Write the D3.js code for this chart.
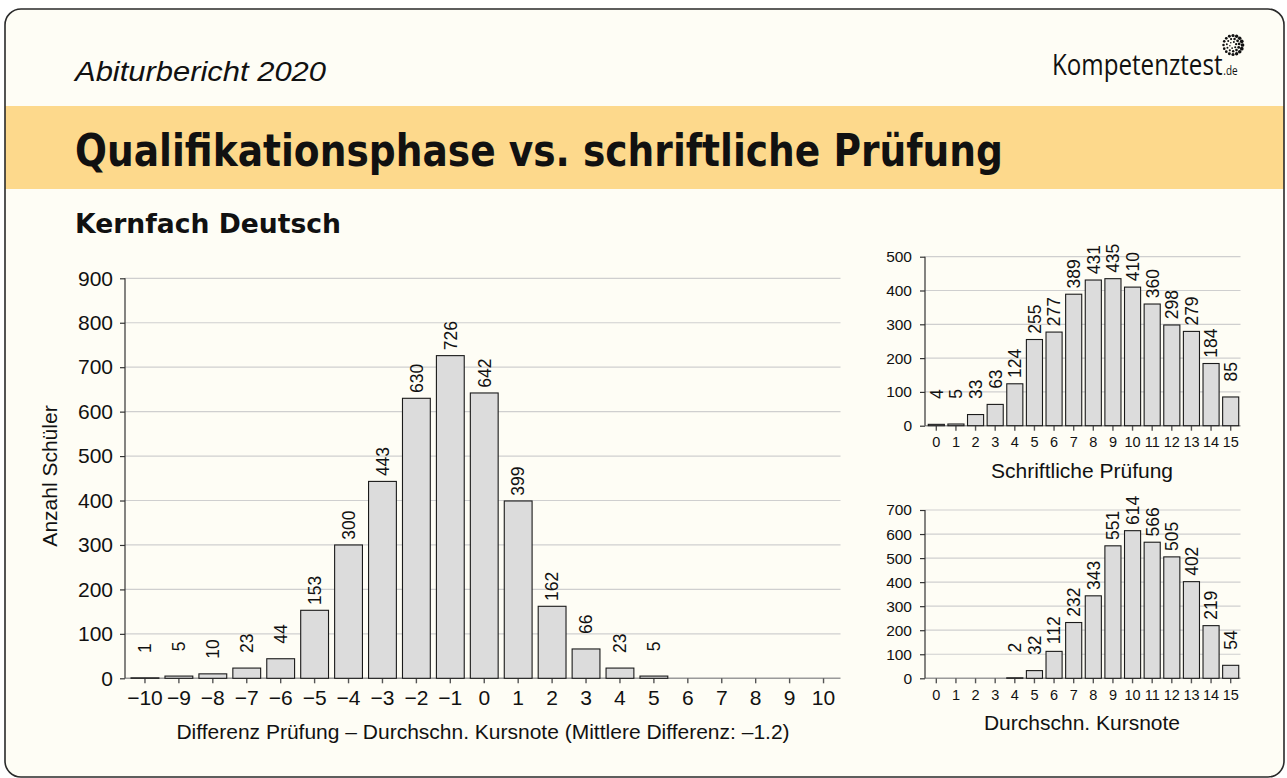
<!DOCTYPE html>
<html><head><meta charset="utf-8">
<script src="https://cdn.jsdelivr.net/npm/d3@7"></script>
<style>
html,body{margin:0;padding:0;background:#ffffff;}
svg{display:block;}
text{font-family:"Liberation Sans",Arial,Helvetica,sans-serif;fill:#111;}
</style></head>
<body>
<svg id="c" width="1287" height="778"></svg>
<script>
// ---------- data ----------
const diffCategories = [-10,-9,-8,-7,-6,-5,-4,-3,-2,-1,0,1,2,3,4,5,6,7,8,9,10];
const diffCounts     = [1,5,10,23,44,153,300,443,630,726,642,399,162,66,23,5,0,0,0,0,0];
const mainYTicks     = [0,100,200,300,400,500,600,700,800,900];

const pointCategories = [0,1,2,3,4,5,6,7,8,9,10,11,12,13,14,15];
const examCounts      = [4,5,33,63,124,255,277,389,431,435,410,360,298,279,184,85];
const examYTicks      = [0,100,200,300,400,500];
const courseCounts    = [0,0,0,0,2,32,112,232,343,551,614,566,505,402,219,54];
const courseYTicks    = [0,100,200,300,400,500,600,700];

const labels = {
  kicker: "Abiturbericht 2020",
  title: "Qualifikationsphase vs. schriftliche Prüfung",
  subtitle: "Kernfach Deutsch",
  mainX: "Differenz Prüfung – Durchschn. Kursnote (Mittlere Differenz: –1.2)",
  mainY: "Anzahl Schüler",
  examX: "Schriftliche Prüfung",
  courseX: "Durchschn. Kursnote",
  logo: "Kompetenztest",
  logoTld: ".de"
};

const fmtTick = d => (d < 0 ? "\u2212" + Math.abs(d) : String(d));

// ---------- frame ----------
const svg = d3.select("#c");
svg.append("rect").attr("x",0).attr("y",0).attr("width",1287).attr("height",778).attr("fill","#ffffff");
svg.append("defs").append("clipPath").attr("id","frameClip")
  .append("rect").attr("x",5).attr("y",9).attr("width",1279).attr("height",768).attr("rx",16);
svg.append("rect").attr("x",5).attr("y",9).attr("width",1279).attr("height",768).attr("rx",16)
  .attr("fill","#fefdf5");
svg.append("rect").attr("clip-path","url(#frameClip)")
  .attr("x",5).attr("y",106).attr("width",1279).attr("height",83).attr("fill","#fdd98c");
svg.append("rect").attr("x",5).attr("y",9).attr("width",1279).attr("height",768).attr("rx",16)
  .attr("fill","none").attr("stroke","#2a2a2a").attr("stroke-width",1.6);

svg.append("text").attr("x",75).attr("y",81).text(labels.kicker)
  .style("font-family","'Liberation Sans',Arial,sans-serif").style("font-style","italic")
  .style("font-size","27px").attr("textLength",251).attr("lengthAdjust","spacingAndGlyphs");
svg.append("text").attr("x",75).attr("y",166).text(labels.title)
  .style("font-family","'DejaVu Sans','Liberation Sans',sans-serif").style("font-weight","bold")
  .style("font-size","45px").attr("textLength",928).attr("lengthAdjust","spacingAndGlyphs");
svg.append("text").attr("x",75).attr("y",233).text(labels.subtitle)
  .style("font-family","'DejaVu Sans','Liberation Sans',sans-serif").style("font-weight","bold")
  .style("font-size","27px").attr("textLength",266).attr("lengthAdjust","spacingAndGlyphs");

// logo (single text element, horizontally condensed to the reference width)
const logo = svg.append("g");
const lg = logo.append("g");
const lt = lg.append("text").attr("x",0).attr("y",0)
  .style("font-family","'Open Sans','Liberation Sans',sans-serif");
lt.append("tspan").style("font-size","29px").text(labels.logo);
lt.append("tspan").attr("dx",1).style("font-size","12px").text(labels.logoTld);
const lw = lt.node().getComputedTextLength() || 185;
lg.attr("transform",`translate(1052,75) scale(${185/lw},1)`);
const lc = {x:1233, y:45};
[[9.5,16,1.7],[6.2,11,1.3],[3.2,6,1.0]].forEach(([r,n,s],ri)=>{
  for(let i=0;i<n;i++){
    const a = i/n*2*Math.PI + ri*0.4;
    const rr = s*(0.75+0.35*(Math.cos(a)+1)/2);
    logo.append("circle").attr("cx",lc.x+r*Math.cos(a)).attr("cy",lc.y+r*Math.sin(a))
      .attr("r",rr).attr("fill","#111");
  }
});

// ---------- generic bar chart ----------
function barChart(opt){
  const g = svg.append("g");
  const x = d3.scaleBand().domain(opt.cats).range([opt.x0, opt.x1]).paddingInner(0.18).paddingOuter(0.09);
  const y = d3.scaleLinear().domain([0, opt.ymax]).range([opt.y0, opt.y1]);
  // grid
  g.selectAll(".grid").data(opt.yticks.filter(d=>d>0)).enter().append("line")
    .attr("x1",opt.axisX).attr("x2",opt.x1).attr("y1",d=>y(d)).attr("y2",d=>y(d))
    .attr("stroke","#cfcfcf").attr("stroke-width",1.2);
  // baseline
  g.append("line").attr("x1",opt.axisX).attr("x2",opt.x1).attr("y1",y(0)).attr("y2",y(0))
    .attr("stroke","#9a9a9a").attr("stroke-width",1.4);
  // y axis
  const ya = g.append("g").attr("transform",`translate(${opt.axisX},0)`)
    .call(d3.axisLeft(y).tickValues(opt.yticks).tickSize(5).tickPadding(opt.tickPad).tickFormat(fmtTick));
  ya.select(".domain").attr("stroke","#333").attr("stroke-width",1.2).attr("d",`M0,${y(0)}V${y(opt.ymax)}`);
  ya.selectAll(".tick line").attr("stroke","#333").attr("stroke-width",1.2);
  ya.selectAll(".tick text").style("font-size",opt.yTickSize+"px").style("font-family","'Liberation Sans',Arial,sans-serif").attr("fill","#111");
  // x axis
  const xa = g.append("g").attr("transform",`translate(0,${y(0)})`)
    .call(d3.axisBottom(x).tickSize(5).tickPadding(opt.xTickPad).tickFormat(fmtTick));
  xa.select(".domain").remove();
  xa.selectAll(".tick line").attr("stroke","#555").attr("stroke-width",1.4);
  xa.selectAll(".tick text").style("font-size",opt.xTickSize+"px").style("font-family","'Liberation Sans',Arial,sans-serif").attr("fill","#111");
  // bars
  const data = opt.cats.map((c,i)=>({c, v:opt.vals[i]})).filter(d=>d.v>0);
  g.selectAll(".bar").data(data).enter().append("rect")
    .attr("x",d=>x(d.c)).attr("width",x.bandwidth())
    .attr("y",d=>y(d.v)).attr("height",d=>y(0)-y(d.v))
    .attr("fill","#dcdcdc").attr("stroke","#1a1a1a").attr("stroke-width",1.1);
  // value labels
  g.selectAll(".vl").data(data).enter().append("text")
    .attr("transform",d=>`translate(${x(d.c)+x.bandwidth()/2},${y(d.v)-opt.labelGap}) rotate(-90)`)
    .attr("text-anchor","end").attr("dy","0.36em")
    .style("font-size",opt.valSize+"px").text(d=>d.v);
  // titles
  g.append("text").attr("x",opt.xTitleX).attr("y",opt.xTitleY).attr("text-anchor","middle")
    .style("font-size",opt.titleSize+"px").text(opt.xTitle);
  if(opt.yTitle){
    g.append("text").attr("transform",`translate(${opt.yTitleX},${opt.yTitleY}) rotate(-90)`)
      .attr("text-anchor","middle").style("font-size",opt.titleSize+"px").text(opt.yTitle);
  }
}

barChart({cats:diffCategories, vals:diffCounts, yticks:mainYTicks, ymax:900,
  x0:128, x1:840.5, y0:678.3, y1:278.3, axisX:125,
  tickPad:7, yTickSize:21, xTickPad:7, xTickSize:21, valSize:17.5, labelGap:34.5,
  xTitle:labels.mainX, xTitleX:483, xTitleY:738.5, yTitle:labels.mainY, yTitleX:57, yTitleY:476, titleSize:21});

barChart({cats:pointCategories, vals:examCounts, yticks:examYTicks, ymax:500,
  x0:926.5, x1:1240.5, y0:425.7, y1:256.7, axisX:925,
  tickPad:8, yTickSize:15.5, xTickPad:6, xTickSize:14.5, valSize:17.5, labelGap:35,
  xTitle:labels.examX, xTitleX:1082, xTitleY:477.5, titleSize:21});

barChart({cats:pointCategories, vals:courseCounts, yticks:courseYTicks, ymax:700,
  x0:926.5, x1:1240.5, y0:678.3, y1:510, axisX:925,
  tickPad:8, yTickSize:15.5, xTickPad:6, xTickSize:14.5, valSize:17.5, labelGap:35,
  xTitle:labels.courseX, xTitleX:1082, xTitleY:730, titleSize:21});
</script>
</body></html>
